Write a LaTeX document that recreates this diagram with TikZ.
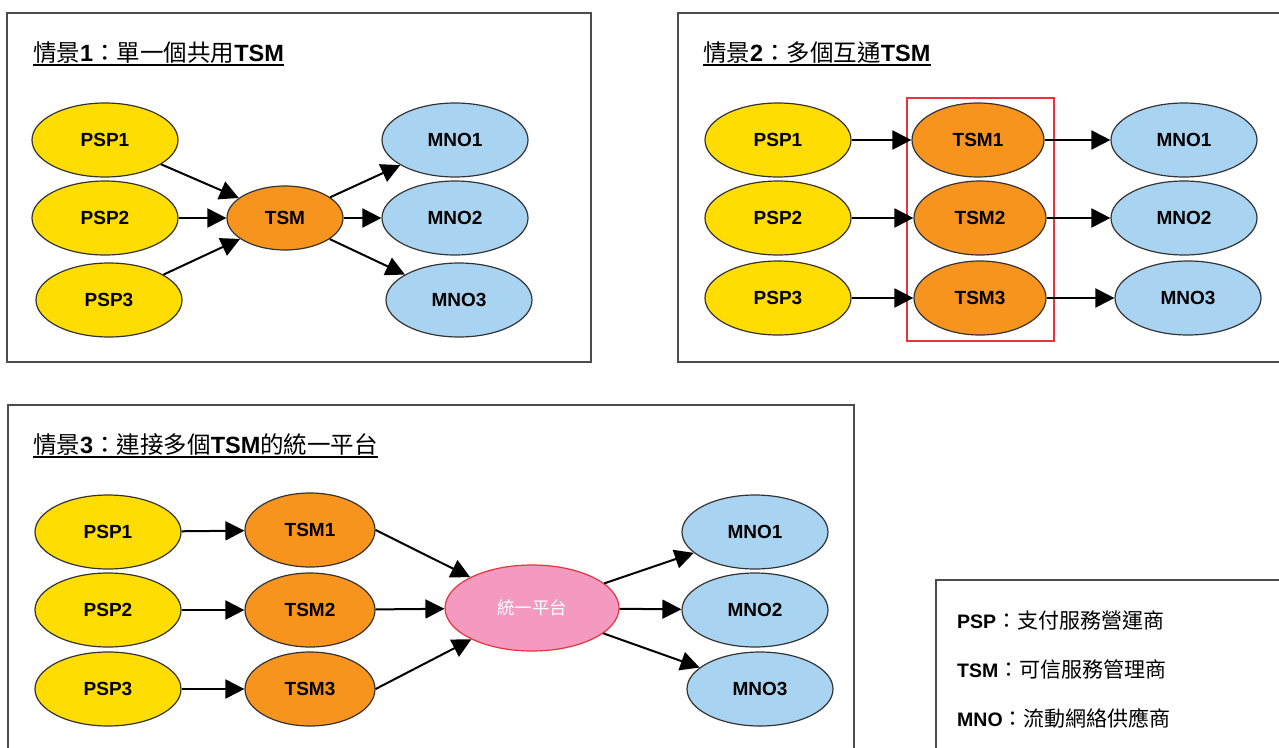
\documentclass[tikz,border=0pt]{standalone}
\usepackage{fontspec}
\setmainfont{Liberation Sans}
\newfontfamily\cjk{Noto Sans CJK TC}
\usetikzlibrary{shapes.geometric, arrows.meta}

\definecolor{pspyellow}{HTML}{FFDD00}
\definecolor{tsmorange}{HTML}{F7941E}
\definecolor{mnoblue}{HTML}{A9D4F1}
\definecolor{hubpink}{HTML}{F49AC1}
\definecolor{boxred}{HTML}{E8333B}
\newcommand{\zh}[1]{{\cjk #1}}
\newcommand{\keyzh}[1]{{\fontsize{21}{24}\selectfont\mdseries\cjk #1}}

\tikzset{
  oval/.style={ellipse, draw=black!80, line width=1.2pt, inner sep=0pt,
    minimum width=146pt, minimum height=74pt,
    font=\fontsize{19}{22}\selectfont\bfseries},
  psp/.style={oval, fill=pspyellow},
  mno/.style={oval, fill=mnoblue},
  tsm/.style={oval, fill=tsmorange, minimum width=132pt},
  panel/.style={draw=black!70, line width=1.3pt},
  title/.style={anchor=base west, inner sep=0pt, font=\fontsize{23.5}{26}\selectfont},
  legend/.style={anchor=base west, inner sep=0pt, font=\fontsize{19.5}{22}\selectfont\bfseries},
  link/.style={line width=2pt, -{Triangle[length=19pt, width=19pt]}}
}

\begin{document}
\begin{tikzpicture}[x=1pt, y=-1pt]
    \useasboundingbox (0,0) rectangle (1279,747);
    \clip (0,0) rectangle (1279,747);

    % draw panel frames
    \draw[panel] (7,13) rectangle (591,362);
    \draw[panel] (678,13) rectangle (1290,362);
    \draw[panel] (8,405) rectangle (854,760);
    \draw[panel] (936,580) rectangle (1290,760);

    % scenario 1: one shared TSM
    \node[title] (title1) at (33,61) {\zh{情景}\textbf{1}\zh{：單一個共用}\textbf{TSM}};
    \draw[line width=2pt] ([yshift=-3.5pt]title1.base west) -- ([yshift=-3.5pt]title1.base east);

    \node[psp] (a-psp1) at (105,140) {PSP1};
    \node[psp] (a-psp2) at (105,218) {PSP2};
    \node[psp] (a-psp3) at (109,300) {PSP3};
    \node[oval, fill=tsmorange, minimum width=116pt, minimum height=64pt] (a-tsm) at (285,218) {TSM};
    \node[mno] (a-mno1) at (455,140) {MNO1};
    \node[mno] (a-mno2) at (455,218) {MNO2};
    \node[mno] (a-mno3) at (459,300) {MNO3};

    \draw[link] (a-psp1) -- (a-tsm);
    \draw[link] (a-psp2) -- (a-tsm);
    \draw[link] (a-psp3) -- (a-tsm);
    \draw[link] (a-tsm) -- (a-mno1);
    \draw[link] (a-tsm) -- (a-mno2);
    \draw[link] (a-tsm) -- (a-mno3);

    % scenario 2: several interworking TSMs
    \node[title] (title2) at (703,61) {\zh{情景}\textbf{2}\zh{：多個互通}\textbf{TSM}};
    \draw[line width=2pt] ([yshift=-3.5pt]title2.base west) -- ([yshift=-3.5pt]title2.base east);

    \draw[boxred, line width=1.2pt] (907,98) rectangle (1054,341);

    \node[psp] (b-psp1) at (778,140) {PSP1};
    \node[psp] (b-psp2) at (778,218) {PSP2};
    \node[psp] (b-psp3) at (778,298) {PSP3};
    \node[tsm] (b-tsm1) at (978,140) {TSM1};
    \node[tsm] (b-tsm2) at (980,218) {TSM2};
    \node[tsm] (b-tsm3) at (980,298) {TSM3};
    \node[mno] (b-mno1) at (1184,140) {MNO1};
    \node[mno] (b-mno2) at (1184,218) {MNO2};
    \node[mno] (b-mno3) at (1188,298) {MNO3};

    \draw[link] (b-psp1) -- (b-tsm1);
    \draw[link] (b-psp2) -- (b-tsm2);
    \draw[link] (b-psp3) -- (b-tsm3);
    \draw[link] (b-tsm1) -- (b-mno1);
    \draw[link] (b-tsm2) -- (b-mno2);
    \draw[link] (b-tsm3) -- (b-mno3);

    % scenario 3: one platform joining several TSMs
    \node[title] (title3) at (33,453) {\zh{情景}\textbf{3}\zh{：連接多個}\textbf{TSM}\zh{的統一平台}};
    \draw[line width=2pt] ([yshift=-3.5pt]title3.base west) -- ([yshift=-3.5pt]title3.base east);

    \node[psp] (c-psp1) at (108,532) {PSP1};
    \node[psp] (c-psp2) at (108,610) {PSP2};
    \node[psp] (c-psp3) at (108,689) {PSP3};
    \node[tsm, minimum width=130pt] (c-tsm1) at (310,530) {TSM1};
    \node[tsm, minimum width=130pt] (c-tsm2) at (310,610) {TSM2};
    \node[tsm, minimum width=130pt] (c-tsm3) at (310,689) {TSM3};
    \node[oval, fill=hubpink, draw=boxred, minimum width=174pt, minimum height=86pt,
          text=white, font=\fontsize{17.5}{20}\selectfont\cjk] (c-hub) at (532,608) {統一平台};
    \node[mno] (c-mno1) at (755,532) {MNO1};
    \node[mno] (c-mno2) at (755,610) {MNO2};
    \node[mno] (c-mno3) at (760,689) {MNO3};

    \draw[link] (c-psp1) -- (c-tsm1);
    \draw[link] (c-psp2) -- (c-tsm2);
    \draw[link] (c-psp3) -- (c-tsm3);
    \draw[link] (c-tsm1.east) -- (c-hub);
    \draw[link] (c-tsm2) -- (c-hub);
    \draw[link] (c-tsm3.east) -- (c-hub);
    \draw[link] (c-hub) -- (c-mno1);
    \draw[link] (c-hub) -- (c-mno2);
    \draw[link] (c-hub) -- (c-mno3);

    % legend
    \node[legend] (key-psp) at (957,628) {PSP\keyzh{：支付服務營運商}};
    \node[legend] (key-tsm) at (957,677) {TSM\keyzh{：可信服務管理商}};
    \node[legend] (key-mno) at (957,726) {MNO\keyzh{：流動網絡供應商}};

\end{tikzpicture}
\end{document}
